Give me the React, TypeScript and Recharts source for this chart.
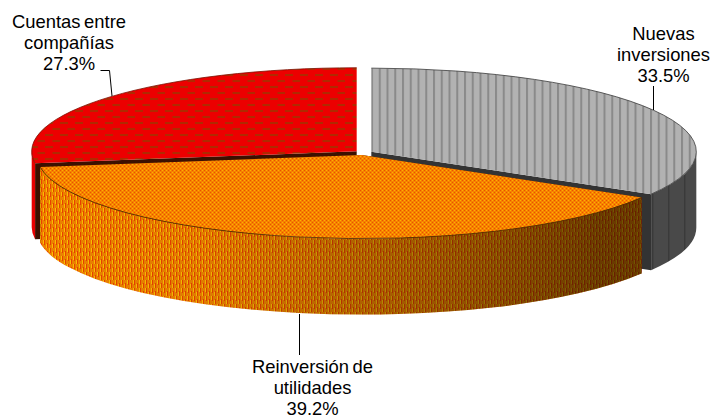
import React from 'react';
import { PieChart, Pie } from 'recharts';

// painted in this order, so the front slice comes last
const names = ['Cuentas entre compañías', 'Nuevas inversiones', 'Reinversión de utilidades'];
const shares = [27.3, 33.5, 39.2];

const data = names.map((name, i) => ({ name, value: shares[i] }));

const TILT = 0.257;
const DEPTH = 76;
const EXPLODE = 9;

const looks: Record<string, any> = {
  'Cuentas entre compañías': { top: 'url(#redTop)', wall: '#e80000', cut: '#3c1000', rim: '#7a1000' },
  'Nuevas inversiones': { top: 'url(#grayTop)', wall: 'url(#grayWall)', cut: '#333333', rim: '#3a3a3a' },
  'Reinversión de utilidades': { top: 'url(#orangeTop)', wall: 'url(#orangeWall)', cut: '#3c1000', rim: '#4a2a00', shade: true },
};

const labelSpots: Record<string, any> = {
  'Cuentas entre compañías': { x: 69, y: 28, lines: ['Cuentas entre', 'compañías'], leader: 'M100.5 70.5H109.5L112 96' },
  'Nuevas inversiones': { x: 663.5, y: 40, lines: ['Nuevas', 'inversiones'], leader: 'M653.5 86V110' },
  'Reinversión de utilidades': { x: 312.5, y: 373, lines: ['Reinversión de', 'utilidades'], leader: 'M299.5 314V355' },
};

const rad = (a: number) => (a * Math.PI) / 180;

// the 3D slice: library angles projected on an ellipse, then extruded
const Slice3D = (props: any) => {
  const { cx, cy, outerRadius, startAngle, endAngle, midAngle, name } = props;
  const look = looks[name];
  const rx = outerRadius;
  const ry = outerRadius * TILT;
  const ox = cx + EXPLODE * Math.cos(rad(midAngle));
  const oy = cy - EXPLODE * TILT * Math.sin(rad(midAngle));
  const pt = (a: number, drop = 0) => [ox + rx * Math.cos(rad(a)), oy - ry * Math.sin(rad(a)) + drop];
  const arc = (from: number, to: number, drop = 0, move = true) => {
    const [x1, y1] = pt(from, drop);
    const [x2, y2] = pt(to, drop);
    const sweep = from > to ? 1 : 0;
    const large = Math.abs(from - to) > 180 ? 1 : 0;
    return `${move ? 'M' : 'L'}${x1} ${y1}A${rx} ${ry} 0 ${large} ${sweep} ${x2} ${y2}`;
  };
  const quad = (a: number) => {
    const [x, y] = pt(a);
    return `M${ox} ${oy}L${x} ${y}L${x} ${y + DEPTH}L${ox} ${oy + DEPTH}Z`;
  };

  // only the part of the rim facing us has a visible wall
  const walls: string[] = [];
  for (const [lo, hi] of [[-180, 0], [180, 360]]) {
    const a = Math.min(startAngle, hi);
    const b = Math.max(endAngle, lo);
    if (a > b) {
      walls.push(`${arc(a, b)}${arc(b, a, DEPTH, false)}Z`);
    }
  }

  return (
    <g>
      <path d={quad(startAngle)} fill={look.cut} />
      <path d={quad(endAngle)} fill={look.cut} />
      {walls.map((d, i) => (
        <g key={i}>
          <path d={d} fill={look.wall} />
          {look.shade && <path d={d} fill="url(#wallShade)" />}
        </g>
      ))}
      <path d={`M${ox} ${oy}${arc(startAngle, endAngle, 0, false)}Z`} fill={look.top} />
      <path d={arc(startAngle, endAngle)} fill="none" stroke={look.rim} strokeWidth={0.8} />
    </g>
  );
};

const SliceLabel = (props: any) => {
  const { name, value } = props;
  const spot = labelSpots[name];
  const lines = [...spot.lines, `${value.toFixed(1)}%`];
  return (
    <g>
      <path d={spot.leader} fill="none" stroke="#000000" strokeWidth={1} />
      <text x={spot.x} y={spot.y} textAnchor="middle" fontFamily="Liberation Sans" fontSize={18.4} wordSpacing={-1.5} fill="#000000">
        {lines.map((line: string, i: number) => (
          <tspan key={i} x={spot.x} y={spot.y + i * 21.2}>{line}</tspan>
        ))}
      </text>
    </g>
  );
};

const total = shares.reduce((sum, v) => sum + v, 0);
const firstAngle = 90 + (360 * shares[0]) / total;

export default function App() {
  return (
    <div style={{ position: 'absolute', left: 0, top: 0, width: 712, height: 418, background: '#ffffff' }}>
      <PieChart width={712} height={418} margin={{ top: 0, right: 0, bottom: 0, left: 0 }}>
        <defs>
          <pattern id="redTop" width={15} height={12} patternUnits="userSpaceOnUse" x={0} y={2}>
            <rect width={15} height={12} fill="#ec0000" />
            <rect x={0} y={0} width={8} height={2} fill="#b02a00" />
            <rect x={7.5} y={6} width={8} height={2} fill="#b02a00" />
          </pattern>
          <pattern id="grayTop" width={7.75} height={8} patternUnits="userSpaceOnUse" x={371}>
            <rect width={8} height={8} fill="#b2b2b2" />
            <rect x={0} width={2} height={8} fill="#8a8a8a" />
          </pattern>
          <pattern id="grayWall" width={16} height={8} patternUnits="userSpaceOnUse" x={652}>
            <rect width={16} height={8} fill="#494949" />
            <rect x={0} width={1.5} height={8} fill="#3a3a3a" />
          </pattern>
          <pattern id="orangeTop" width={4} height={4} patternUnits="userSpaceOnUse">
            <rect width={4} height={4} fill="#f68200" />
            <rect x={0} y={0} width={1} height={1} fill="#fcb400" />
            <rect x={2} y={2} width={1} height={1} fill="#fcb400" />
            <rect x={2} y={0} width={1} height={1} fill="#ea5000" />
            <rect x={0} y={2} width={1} height={1} fill="#ea5000" />
          </pattern>
          <pattern id="orangeWall" width={6} height={8} patternUnits="userSpaceOnUse">
            <rect width={6} height={8} fill="#ec8200" />
            <rect x={1} y={0} width={1} height={4} fill="#fcc000" />
            <rect x={4} y={4} width={1} height={4} fill="#fcc000" />
            <rect x={2} y={0} width={1} height={5} fill="#ea4000" />
            <rect x={5} y={3} width={1} height={5} fill="#ea4000" />
          </pattern>
          <linearGradient id="wallShade" gradientUnits="userSpaceOnUse" x1={40} y1={0} x2={642} y2={0}>
            <stop offset="0%" stopColor="#000000" stopOpacity={0} />
            <stop offset="27%" stopColor="#000000" stopOpacity={0.05} />
            <stop offset="51%" stopColor="#000000" stopOpacity={0.24} />
            <stop offset="76%" stopColor="#000000" stopOpacity={0.42} />
            <stop offset="93%" stopColor="#000000" stopOpacity={0.55} />
            <stop offset="100%" stopColor="#000000" stopOpacity={0.55} />
          </linearGradient>
        </defs>
        <Pie
          data={data}
          dataKey="value"
          nameKey="name"
          cx={363.5}
          cy={152.8}
          innerRadius={0}
          outerRadius={325}
          startAngle={firstAngle}
          endAngle={firstAngle - 360}
          stroke="none"
          shape={Slice3D}
          label={SliceLabel}
          labelLine={false}
          isAnimationActive={false}
        />
      </PieChart>
    </div>
  );
}
